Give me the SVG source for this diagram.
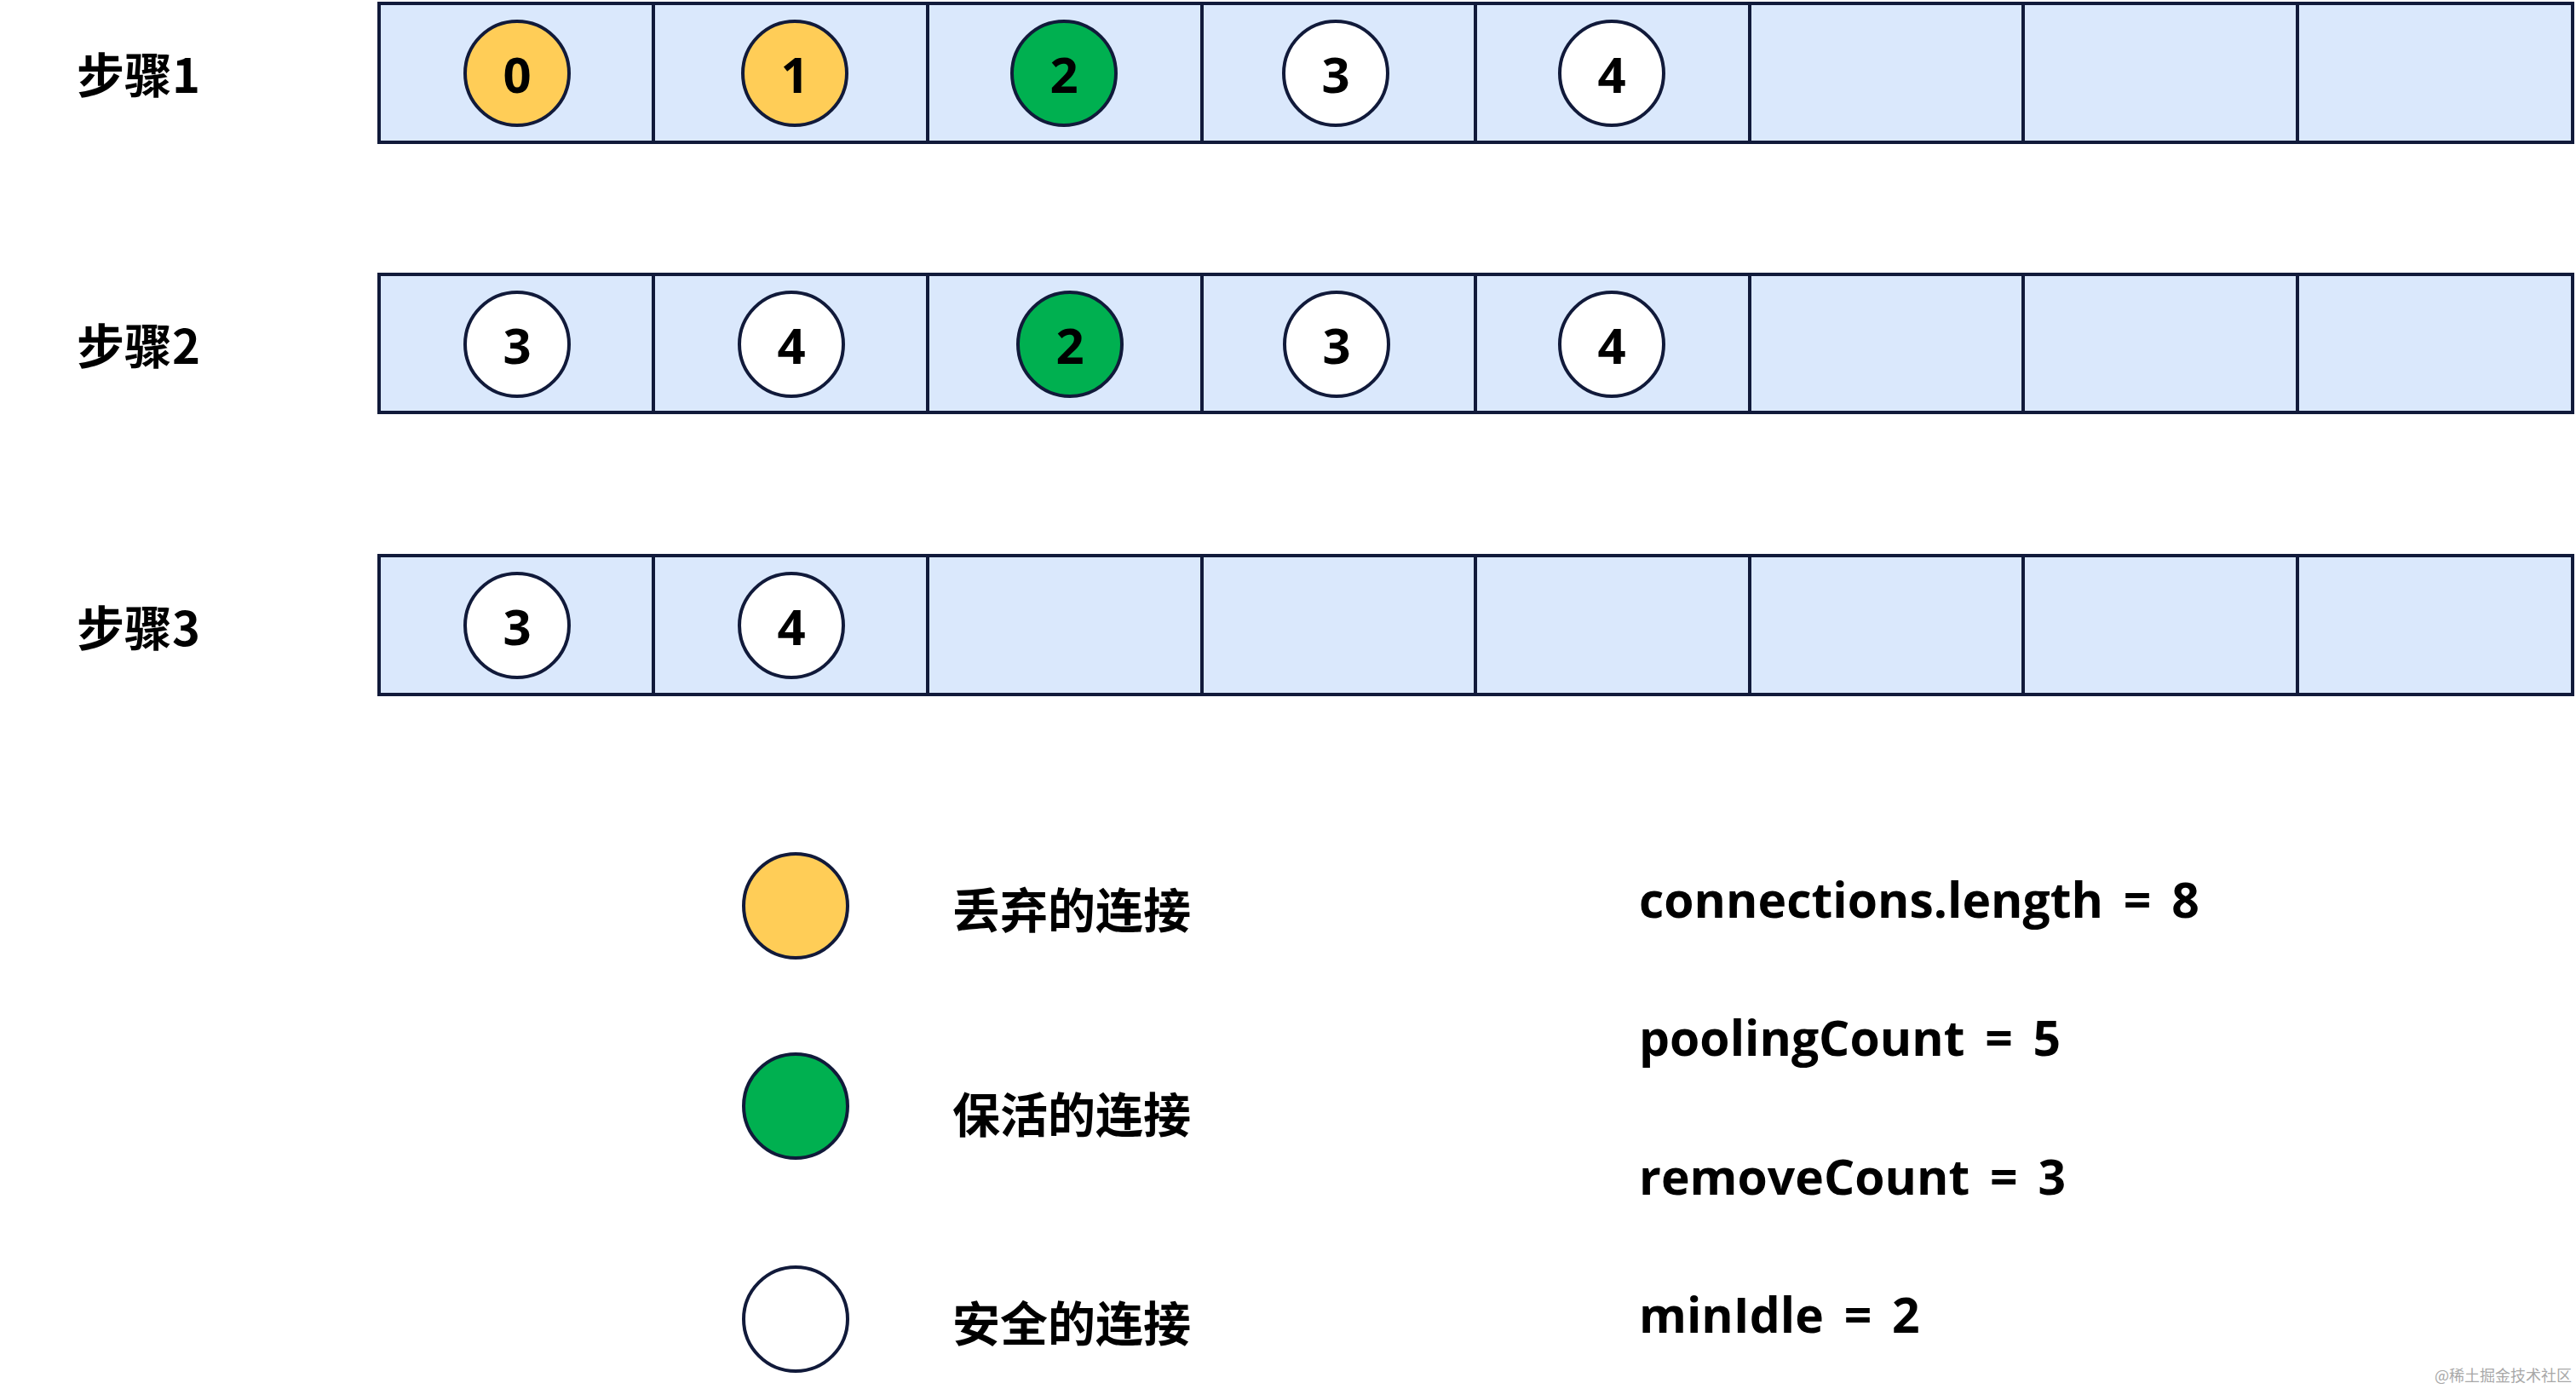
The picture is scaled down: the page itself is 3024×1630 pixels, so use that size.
<svg xmlns="http://www.w3.org/2000/svg" width="3024" height="1630" viewBox="0 0 3024 1630">
<style>
.cell{fill:#dae8fc;stroke:#111a3a;stroke-width:4}
.c{stroke:#111a3a;stroke-width:4}
.y{fill:#ffcd57}
.g{fill:#00b050}
.w{fill:#ffffff}
.num{font-family:"Open Sans","Noto Sans",sans-serif;font-weight:700;font-size:58px;fill:#000;text-anchor:middle;dominant-baseline:central}
.step{font-family:"Noto Sans CJK SC",sans-serif;font-weight:700;font-size:56px;fill:#000;dominant-baseline:central}
.leg{font-family:"Noto Sans CJK SC",sans-serif;font-weight:700;font-size:56px;fill:#000;dominant-baseline:central}
.var{font-family:"Open Sans","Noto Sans",sans-serif;font-weight:700;font-size:57px;fill:#000;word-spacing:9px}
.wm{font-family:"Noto Sans CJK SC",sans-serif;font-size:18px;fill:#a8a8a8}
</style>
<rect width="3024" height="1630" fill="#ffffff"/>
<g id="row1">
<text class="step" x="90" y="84">步骤1</text>
<rect class="cell" x="445" y="4" width="322" height="163"/>
<rect class="cell" x="767" y="4" width="322" height="163"/>
<rect class="cell" x="1089" y="4" width="322" height="163"/>
<rect class="cell" x="1411" y="4" width="321" height="163"/>
<rect class="cell" x="1732" y="4" width="322" height="163"/>
<rect class="cell" x="2054" y="4" width="321" height="163"/>
<rect class="cell" x="2375" y="4" width="322" height="163"/>
<rect class="cell" x="2697" y="4" width="323" height="163"/>
</g>
<g id="row1-conn0"><circle class="c y" cx="607" cy="86" r="61"/><text class="num" x="607" y="86">0</text></g>
<g id="row1-conn1"><circle class="c y" cx="933" cy="86" r="61"/><text class="num" x="933" y="86">1</text></g>
<g id="row1-conn2"><circle class="c g" cx="1249" cy="86" r="61"/><text class="num" x="1249" y="86">2</text></g>
<g id="row1-conn3"><circle class="c w" cx="1568" cy="86" r="61"/><text class="num" x="1568" y="86">3</text></g>
<g id="row1-conn4"><circle class="c w" cx="1892" cy="86" r="61"/><text class="num" x="1892" y="86">4</text></g>
<g id="row2">
<text class="step" x="90" y="402">步骤2</text>
<rect class="cell" x="445" y="322" width="322" height="162"/>
<rect class="cell" x="767" y="322" width="322" height="162"/>
<rect class="cell" x="1089" y="322" width="322" height="162"/>
<rect class="cell" x="1411" y="322" width="321" height="162"/>
<rect class="cell" x="1732" y="322" width="322" height="162"/>
<rect class="cell" x="2054" y="322" width="321" height="162"/>
<rect class="cell" x="2375" y="322" width="322" height="162"/>
<rect class="cell" x="2697" y="322" width="323" height="162"/>
</g>
<g id="row2-conn3a"><circle class="c w" cx="607" cy="404" r="61"/><text class="num" x="607" y="404">3</text></g>
<g id="row2-conn4a"><circle class="c w" cx="929" cy="404" r="61"/><text class="num" x="929" y="404">4</text></g>
<g id="row2-conn2"><circle class="c g" cx="1256" cy="404" r="61"/><text class="num" x="1256" y="404">2</text></g>
<g id="row2-conn3b"><circle class="c w" cx="1569" cy="404" r="61"/><text class="num" x="1569" y="404">3</text></g>
<g id="row2-conn4b"><circle class="c w" cx="1892" cy="404" r="61"/><text class="num" x="1892" y="404">4</text></g>
<g id="row3">
<text class="step" x="90" y="733">步骤3</text>
<rect class="cell" x="445" y="652" width="322" height="163"/>
<rect class="cell" x="767" y="652" width="322" height="163"/>
<rect class="cell" x="1089" y="652" width="322" height="163"/>
<rect class="cell" x="1411" y="652" width="321" height="163"/>
<rect class="cell" x="1732" y="652" width="322" height="163"/>
<rect class="cell" x="2054" y="652" width="321" height="163"/>
<rect class="cell" x="2375" y="652" width="322" height="163"/>
<rect class="cell" x="2697" y="652" width="323" height="163"/>
</g>
<g id="row3-conn3"><circle class="c w" cx="607" cy="734" r="61"/><text class="num" x="607" y="734">3</text></g>
<g id="row3-conn4"><circle class="c w" cx="929" cy="734" r="61"/><text class="num" x="929" y="734">4</text></g>
<g id="legend-abandoned"><circle class="c y" cx="934" cy="1063" r="61"/><text class="leg" x="1118" y="1064">丢弃的连接</text></g>
<g id="legend-keepalive"><circle class="c g" cx="934" cy="1298" r="61"/><text class="leg" x="1118" y="1304">保活的连接</text></g>
<g id="legend-safe"><circle class="c w" cx="934" cy="1548" r="61"/><text class="leg" x="1118" y="1549">安全的连接</text></g>
<g id="vars">
<text class="var" x="1924" y="1077">connections.length = 8</text>
<text class="var" x="1924" y="1239">poolingCount = 5</text>
<text class="var" x="1924" y="1402">removeCount = 3</text>
<text class="var" x="1924" y="1564">minIdle = 2</text>
</g>
<g id="connectors"></g>
<text class="wm" x="2858" y="1621">@稀土掘金技术社区</text>
</svg>
